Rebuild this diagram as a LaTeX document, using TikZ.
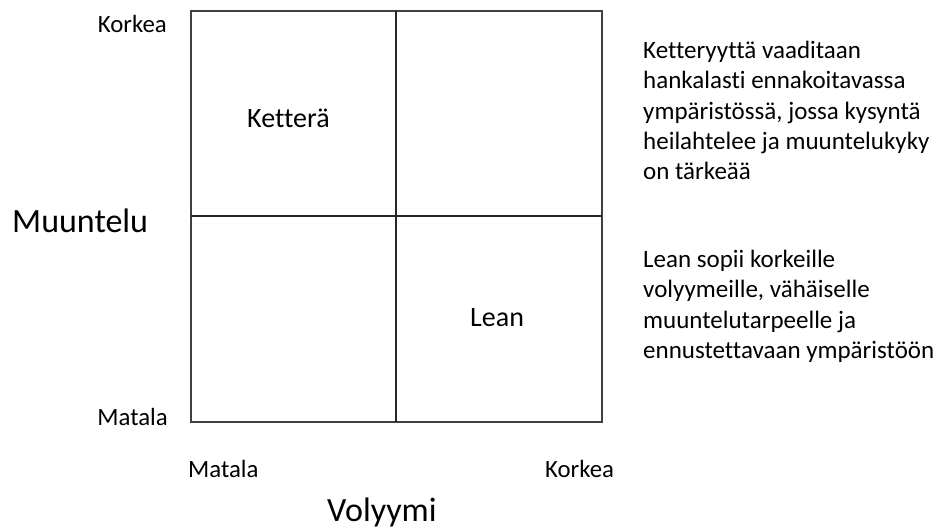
\documentclass[tikz,border=0pt]{standalone}
\usepackage{fontspec}
\setmainfont{Carlito}[Ligatures=NoCommon]
\begin{document}
\begin{tikzpicture}[x=1pt,y=-1pt,
  frame/.style={draw=black!75,line width=1.4pt},
  divider/.style={draw=black!85,line width=2pt},
  lbl/.style={inner sep=0pt,font=\fontsize{24.8}{29}\selectfont},
  axis/.style={inner sep=0pt,font=\fontsize{34}{40}\selectfont},
  quad/.style={inner sep=0pt,font=\fontsize{28}{33}\selectfont},
  note/.style={inner sep=0pt,anchor=base west,font=\fontsize{25}{30.5}\selectfont}]
% page area
\fill[white] (0,0) rectangle (946,530);
\useasboundingbox (0,0) rectangle (946,530);

% the 2x2 matrix
\coordinate (tl) at (191,11);
\coordinate (br) at (602,422);
\coordinate (mt) at (396,11);
\coordinate (mb) at (396,422);
\coordinate (ml) at (191,216);
\coordinate (mr) at (602,216);
\draw[frame] (tl) rectangle (br);
\draw[divider] (ml) -- (mr);
\draw[divider,line width=2.6pt] (mt) -- (mb);

% vertical axis
\node[lbl,anchor=base east] (yhigh) at (167,32) {Korkea};
\node[lbl,anchor=base east] (ylow) at (168,425) {Matala};
\node[axis,anchor=base west] (ytitle) at (12,232) {Muuntelu};

% horizontal axis
\node[lbl,anchor=base west] (xlow) at (188,477) {Matala};
\node[lbl,anchor=base west] (xhigh) at (545,477) {Korkea};
\node[axis,anchor=base west] (xtitle) at (327,521) {Volyymi};

% quadrant labels
\node[quad,anchor=base west] (agile) at (247,127) {Ketterä};
\node[quad,anchor=base west] (lean) at (470,326) {Lean};

% explanations
\node[note] (agiletext) at (643,58) {\parbox[t]{300pt}{\raggedright
  Ketteryyttä vaaditaan\\
  hankalasti ennakoitavassa\\
  ympäristössä, jossa kysyntä\\
  heilahtelee ja muuntelukyky\\
  on tärkeää}};
\node[note] (leantext) at (643,267) {\parbox[t]{300pt}{\raggedright
  Lean sopii korkeille\\
  volyymeille, vähäiselle\\
  muuntelutarpeelle ja\\
  ennustettavaan ympäristöön}};
\end{tikzpicture}
\end{document}
